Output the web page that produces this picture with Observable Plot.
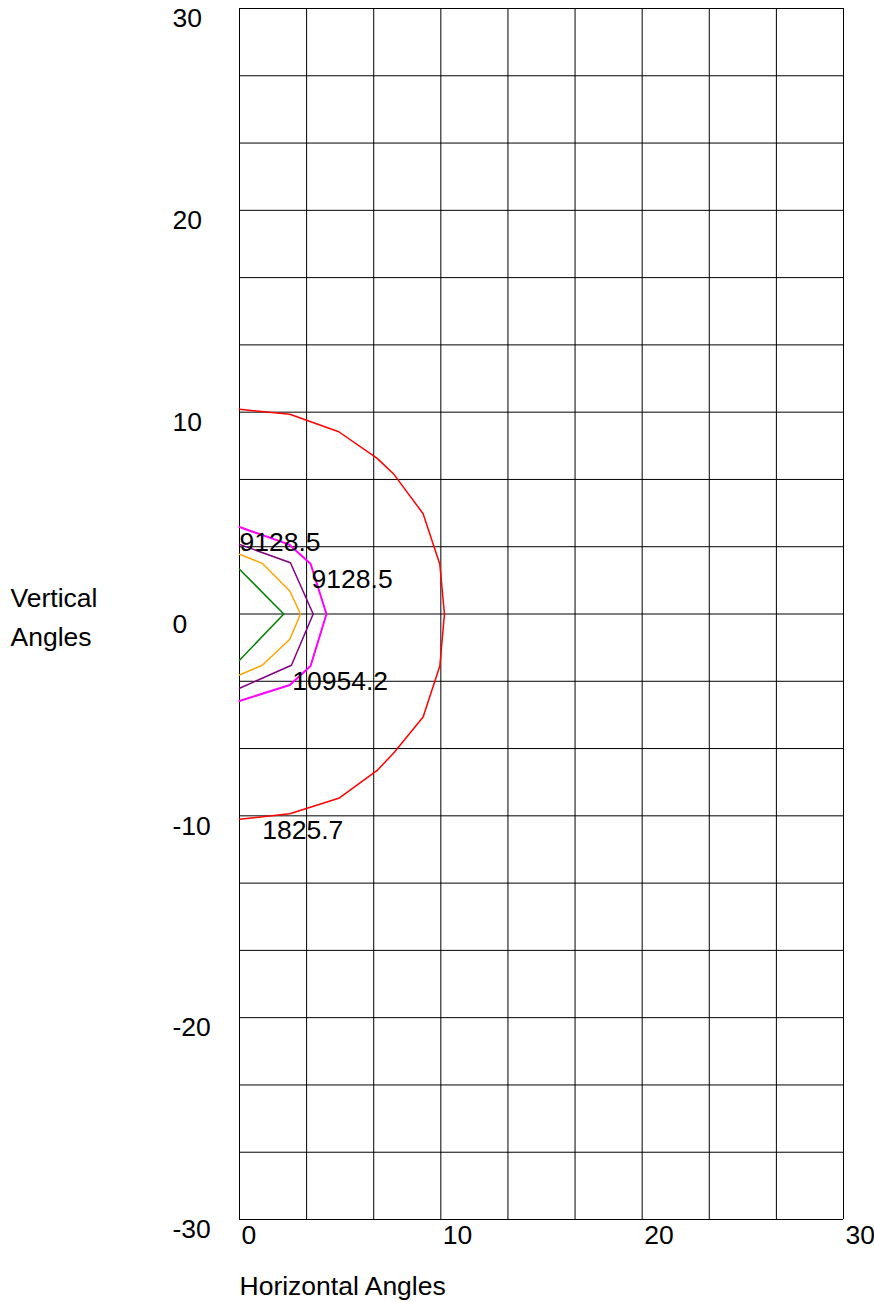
<!DOCTYPE html>
<html>
<head>
<meta charset="utf-8">
<script src="https://cdn.jsdelivr.net/npm/d3@7"></script>
<script src="https://cdn.jsdelivr.net/npm/@observablehq/plot@0.6"></script>
<style>
  html, body { margin: 0; padding: 0; background: #fff; overflow: hidden; }
</style>
</head>
<body>
<div id="chart"></div>
<script>
// Contour series (horizontal angle, vertical angle)
const redX     = [0, 2.5, 4.93, 6.84, 7.67, 9.12, 9.95, 10.18, 9.95, 9.12, 7.67, 6.84, 4.93, 2.5, 0];
const redY     = [10.14, 9.9, 9.03, 7.71, 6.92, 4.97, 2.46, 0, -2.58, -5.1, -6.87, -7.75, -9.13, -9.9, -10.17];
const magentaX = [0, 2.45, 3.53, 4.32, 3.53, 2.5, 0];
const magentaY = [4.31, 3.45, 2.49, 0, -2.58, -3.52, -4.31];
const purpleX  = [0, 2.53, 3.66, 2.58, 0];
const purpleY  = [3.45, 2.54, 0, -2.54, -3.68];
const orangeX  = [0, 1.13, 2.5, 3.03, 2.5, 1.13, 0];
const orangeY  = [2.96, 2.51, 1.14, 0, -1.25, -2.54, -3.02];
const greenX   = [0, 2.2, 0];
const greenY   = [2.22, 0, -2.29];

// Contour labels
const labelText = ["9128.5", "9128.5", "10954.2", "1825.7"];
const labelX    = [0.0, 3.58, 2.62, 1.13];
const labelY    = [3.12, 1.30, -3.77, -11.15];

// Axes
const xTicks = [0, 10, 20, 30];
const yTicks = [30, 20, 10, 0, -10, -20, -30];
const xGrid  = [0, 10/3, 20/3, 10, 40/3, 50/3, 20, 70/3, 80/3, 30];
const yGrid  = [-30, -80/3, -70/3, -20, -50/3, -40/3, -10, -20/3, -10/3, 0,
                10/3, 20/3, 10, 40/3, 50/3, 20, 70/3, 80/3, 30];

const seriesNames  = ["green", "orange", "purple", "magenta", "red"];
const seriesColors = ["#008000", "#ff8000", "#800080", "#ff00ff", "#ff0000"];
const seriesXs = [greenX, orangeX, purpleX, magentaX, redX];
const seriesYs = [greenY, orangeY, purpleY, magentaY, redY];

const rows = [];
seriesNames.forEach((s, k) => {
  seriesXs[k].forEach((x, i) => rows.push({series: s, x, y: seriesYs[k][i]}));
});
const labels = labelText.map((t, i) => ({text: t, x: labelX[i], y: labelY[i]}));

const FS = 26.5;
const fmt = d => String(d);

const chart = Plot.plot({
  width: 874,
  height: 1302,
  marginLeft: 239,
  marginRight: 31,
  marginTop: 8,
  marginBottom: 83,
  style: {fontFamily: "'Liberation Sans', Arial, sans-serif", fontSize: FS + "px", background: "#fff", color: "#000"},
  x: {domain: [0, 30]},
  y: {domain: [-30, 30]},
  color: {domain: seriesNames, range: seriesColors},
  marks: [
    Plot.ruleX(xGrid, {stroke: "#000", strokeWidth: 1}),
    Plot.ruleY(yGrid, {stroke: "#000", strokeWidth: 1}),
    Plot.line(rows, {x: "x", y: "y", z: "series", stroke: "series",
      strokeWidth: d => d.series === "magenta" ? 2 : 1.5}),
    Plot.text(labels, {x: "x", y: "y", text: "text", textAnchor: "start", lineAnchor: "bottom",
      fill: "#000", fontSize: FS}),
    Plot.axisX({ticks: xTicks, tickFormat: fmt, tickSize: 0, tickPadding: 6, textAnchor: "start", dx: 2,
      label: null, fontSize: FS}),
    Plot.axisY({ticks: yTicks, tickFormat: fmt, tickSize: 0, tickPadding: 0, textAnchor: "start", dx: -67,
      lineAnchor: "top", dy: 0, label: null, fontSize: FS}),
    Plot.text(["Horizontal Angles"], {frameAnchor: "bottom-left", dy: 75, textAnchor: "start",
      lineAnchor: "bottom", fontSize: FS, fill: "#000"}),
    Plot.text(["Vertical\nAngles"], {frameAnchor: "left", dx: -229, textAnchor: "start",
      lineAnchor: "middle", lineHeight: 1.45, fontSize: FS, fill: "#000"})
  ]
});
document.getElementById("chart").appendChild(chart);
</script>
</body>
</html>
